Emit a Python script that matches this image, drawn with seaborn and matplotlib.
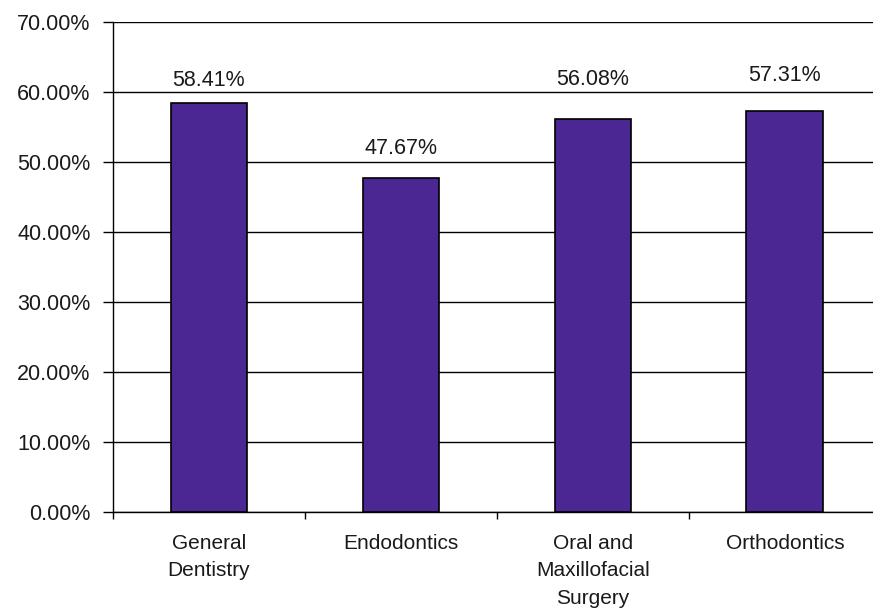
import pandas as pd
import matplotlib
matplotlib.use('Agg')
import matplotlib.pyplot as plt
import seaborn as sns
from matplotlib.ticker import FuncFormatter

sns.set_style('white')
plt.rcParams['font.family'] = ['Liberation Sans', 'DejaVu Sans']

# 数据
categories = ['General\nDentistry', 'Endodontics', 'Oral and\nMaxillofacial\nSurgery', 'Orthodontics']
values = [58.41, 47.67, 56.08, 57.31]
df = pd.DataFrame({'cat': categories, 'val': values})

fig = plt.figure(figsize=(8.73, 6.09), dpi=100)
ax = fig.add_axes([0.1294, 0.1593, 0.8796, 0.8046])

sns.barplot(x='cat', y='val', data=df, color='#4b2793', width=0.4,
            edgecolor='black', linewidth=1.2, saturation=1, ax=ax, zorder=3)

ax.set_ylim(0, 70)
ax.set_xlim(-0.5, 3.5)
ax.set_yticks(range(0, 71, 10))
ax.yaxis.set_major_formatter(FuncFormatter(lambda v, p: f'{v:.2f}%'))
ax.set_xticks([-0.5, 0.5, 1.5, 2.5, 3.5], minor=False)
ax.set_xticklabels([])
ax.set_xticks(range(4), minor=True)
ax.set_xticklabels(categories, minor=True, linespacing=1.55)
ax.tick_params(axis='x', which='minor', length=0, pad=16, labelsize=15, labelcolor='#1a1a1a')
ax.tick_params(axis='x', which='major', length=5, width=1, direction='out', color='black')
ax.tick_params(axis='y', length=7, width=1, direction='out', color='black', labelsize=15.5,
               labelcolor='#1a1a1a', pad=9)
ax.xaxis.set_ticks_position('bottom')
ax.yaxis.set_ticks_position('left')

ax.yaxis.grid(True, color='black', linewidth=1, zorder=0)
ax.set_axisbelow(True)
for s in ['top', 'right']:
    ax.spines[s].set_visible(False)
for s in ['left', 'bottom']:
    ax.spines[s].set_color('black')
    ax.spines[s].set_linewidth(1)

# 数据标签（位置与原图大致一致）
label_pad = [9, 14, 21, 18]
for bar, v, pd_ in zip(ax.patches, values, label_pad):
    ax.annotate(f'{v:.2f}%', (bar.get_x() + bar.get_width() / 2, bar.get_height()),
                xytext=(0, pd_), textcoords='offset points', ha='center', va='bottom',
                fontsize=15.5, color='#1a1a1a')

ax.set_xlabel('')
ax.set_ylabel('')

plt.savefig('out.png', dpi=100)
